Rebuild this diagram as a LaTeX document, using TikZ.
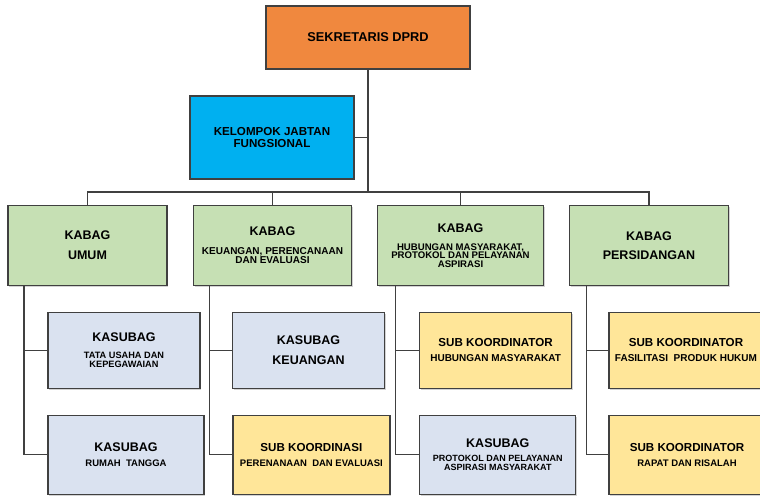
\documentclass[tikz,border=0pt]{standalone}
\usepackage{fontspec}
\setmainfont{Liberation Sans}
\usetikzlibrary{positioning, shadows}
\definecolor{sekorange}{RGB}{240,136,62}
\definecolor{fungblue}{RGB}{0,176,240}
\definecolor{kabaggreen}{RGB}{198,224,180}
\definecolor{kasubgray}{RGB}{218,226,240}
\definecolor{subyellow}{RGB}{255,230,153}
\definecolor{edgegray}{RGB}{64,64,64}
\newcommand{\hd}{\fontsize{12.5}{14}\selectfont}
\newcommand{\sm}{\fontsize{9.5}{9.5}\selectfont}

\begin{document}
\begin{tikzpicture}[x=1pt, y=-1pt,
    unit/.style={rectangle, draw=edgegray, line width=1.3pt, align=center, font=\bfseries\color{black},
      inner sep=2pt, drop shadow={shadow xshift=1.3pt, shadow yshift=-1.3pt, opacity=.35}},
    link/.style={draw=edgegray, line width=1.2pt}
]
\useasboundingbox (0,0) rectangle (760,497);
\clip (0,0) rectangle (760,497);
% pimpinan
\node[unit, fill=sekorange, minimum width=204pt, minimum height=63pt] (sekwan) at (368,37.5) {\fontsize{12.8}{14}\selectfont SEKRETARIS DPRD};
\node[unit, fill=fungblue, minimum width=164pt, minimum height=83pt] (fungsional) at (272,137.5) {\fontsize{11.6}{13}\selectfont KELOMPOK JABTAN\\\fontsize{11.6}{13}\selectfont FUNGSIONAL};
\coordinate (bus) at (368,192);
% kabag
\node[unit, fill=kabaggreen, minimum width=159pt, minimum height=80pt] (umum) at (87.5,245.5) {\hd KABAG\\[8pt]\hd UMUM};
\node[unit, fill=kabaggreen, minimum width=158pt, minimum height=80pt] (keuangan) at (272.5,245.5) {\hd KABAG\\[7pt]\fontsize{10}{10}\selectfont KEUANGAN, PERENCANAAN\\[-3pt]\fontsize{10}{10}\selectfont DAN EVALUASI};
\node[unit, fill=kabaggreen, minimum width=166pt, minimum height=80pt] (humas) at (460.5,245.5) {\hd KABAG\\[6pt]\fontsize{9.6}{9.6}\selectfont HUBUNGAN MASYARAKAT,\\[-3.5pt]\fontsize{9.6}{9.6}\selectfont PROTOKOL DAN PELAYANAN\\[-3.5pt]\fontsize{9.6}{9.6}\selectfont ASPIRASI};
\node[unit, fill=kabaggreen, minimum width=159pt, minimum height=80pt] (sidang) at (649,245.5) {\hd KABAG\\[7.5pt]\hd PERSIDANGAN};
% kasubag / sub koordinator, baris 1
\node[unit, fill=kasubgray, minimum width=152pt, minimum height=76pt] (tatausaha) at (124,350.3) {\hd KASUBAG\\[4.5pt]\fontsize{9.2}{9.2}\selectfont TATA USAHA DAN\\[-2.7pt]\fontsize{9.2}{9.2}\selectfont KEPEGAWAIAN};
\node[unit, fill=kasubgray, minimum width=152pt, minimum height=76pt] (subkeu) at (308.5,350.3) {\hd KASUBAG\\[8pt]\hd KEUANGAN};
\node[unit, fill=subyellow, minimum width=152pt, minimum height=76pt] (subhumas) at (495.6,350.3) {\fontsize{11.6}{13}\selectfont SUB KOORDINATOR\\[3pt]\fontsize{10}{11}\selectfont HUBUNGAN MASYARAKAT};
\node[unit, fill=subyellow, minimum width=154pt, minimum height=76pt] (hukum) at (686,350.3) {\fontsize{11.6}{13}\selectfont SUB KOORDINATOR\\[3pt]\fontsize{10}{11}\selectfont FASILITASI\ \ PRODUK HUKUM};
% baris 2
\node[unit, fill=kasubgray, minimum width=156pt, minimum height=79pt] (rumahtangga) at (126,454.7) {\hd KASUBAG\\[3pt]\sm RUMAH\ \ TANGGA};
\node[unit, fill=subyellow, minimum width=157pt, minimum height=79pt] (evaluasi) at (311.4,454.7) {\fontsize{11.6}{13}\selectfont SUB KOORDINASI\\[3pt]\sm PERENANAAN\ \ DAN EVALUASI};
\node[unit, fill=kasubgray, minimum width=156pt, minimum height=79pt] (protokol) at (497.8,454.7) {\hd KASUBAG\\[2pt]\fontsize{9}{9}\selectfont PROTOKOL DAN PELAYANAN\\[-3pt]\fontsize{9}{9}\selectfont ASPIRASI MASYARAKAT};
\node[unit, fill=subyellow, minimum width=156pt, minimum height=79pt] (risalah) at (687,454.7) {\fontsize{11.6}{13}\selectfont SUB KOORDINATOR\\[3pt]\sm RAPAT DAN RISALAH};
% garis
\draw[link] (sekwan) -- (bus);
\draw[link] (fungsional.east) -- (fungsional.east -| sekwan.south);
\draw[link] (umum.north) -- (umum.north |- bus) -- (sidang.north |- bus) -- (sidang.north);
\draw[link] (keuangan.north) -- (keuangan.north |- bus);
\draw[link] (humas.north) -- (humas.north |- bus);
\draw[link] ([xshift=-63.5pt]umum.south) |- (rumahtangga.west);
\draw[link] ([xshift=-63.5pt]umum.south |- tatausaha.west) -- (tatausaha.west);
\draw[link] ([xshift=-63.2pt]keuangan.south) |- (evaluasi.west);
\draw[link] ([xshift=-63.2pt]keuangan.south |- subkeu.west) -- (subkeu.west);
\draw[link] ([xshift=-65.3pt]humas.south) |- (protokol.west);
\draw[link] ([xshift=-65.3pt]humas.south |- subhumas.west) -- (subhumas.west);
\draw[link] ([xshift=-62.3pt]sidang.south) |- (risalah.west);
\draw[link] ([xshift=-62.3pt]sidang.south |- hukum.west) -- (hukum.west);
\end{tikzpicture}
\end{document}
